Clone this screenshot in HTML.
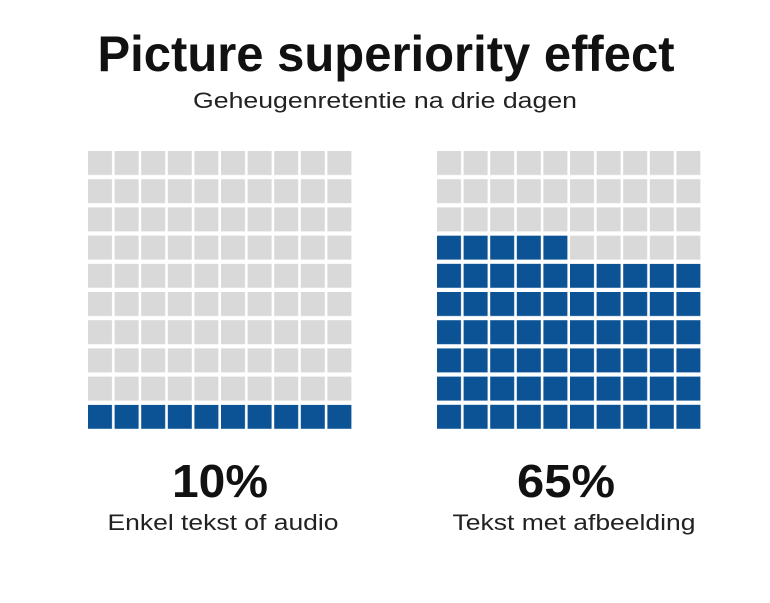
<!DOCTYPE html>
<html><head><style>body{margin:0;background:#fff}svg{display:block}</style></head>
<body>
<svg width="770" height="603" xmlns="http://www.w3.org/2000/svg" font-family="Liberation Sans, sans-serif">
<defs>
<pattern id="gL" patternUnits="userSpaceOnUse" x="88" y="151" width="26.6" height="28.2"><rect width="24" height="24" fill="#d9d9d9"/></pattern>
<pattern id="bL" patternUnits="userSpaceOnUse" x="88" y="151" width="26.6" height="28.2"><rect width="24" height="24" fill="#0b5394"/></pattern>
<pattern id="gR" patternUnits="userSpaceOnUse" x="437" y="151" width="26.6" height="28.2"><rect width="24" height="24" fill="#d9d9d9"/></pattern>
<pattern id="bR" patternUnits="userSpaceOnUse" x="437" y="151" width="26.6" height="28.2"><rect width="24" height="24" fill="#0b5394"/></pattern>
</defs>
<text x="386" y="71" text-anchor="middle" font-size="50" font-weight="bold" fill="#111" textLength="577" lengthAdjust="spacingAndGlyphs">Picture superiority effect</text>
<text x="385" y="108" text-anchor="middle" font-size="22" fill="#222" textLength="384" lengthAdjust="spacingAndGlyphs">Geheugenretentie na drie dagen</text>

<rect x="88" y="151" width="266" height="253.8" fill="url(#gL)"/>
<rect x="88" y="404.8" width="266" height="28.2" fill="url(#bL)"/>

<rect x="437" y="151" width="266" height="84.6" fill="url(#gR)"/>
<rect x="437" y="235.6" width="133" height="28.2" fill="url(#bR)"/>
<rect x="570" y="235.6" width="133" height="28.2" fill="url(#gR)"/>
<rect x="437" y="263.8" width="266" height="169.2" fill="url(#bR)"/>

<text x="220" y="497" text-anchor="middle" font-size="46" font-weight="bold" fill="#111" textLength="96" lengthAdjust="spacingAndGlyphs">10%</text>
<text x="566" y="497" text-anchor="middle" font-size="46" font-weight="bold" fill="#111" textLength="98" lengthAdjust="spacingAndGlyphs">65%</text>
<text x="223" y="530" text-anchor="middle" font-size="22" fill="#222" textLength="231" lengthAdjust="spacingAndGlyphs">Enkel tekst of audio</text>
<text x="574" y="530" text-anchor="middle" font-size="22" fill="#222" textLength="243" lengthAdjust="spacingAndGlyphs">Tekst met afbeelding</text>
</svg>
</body></html>
